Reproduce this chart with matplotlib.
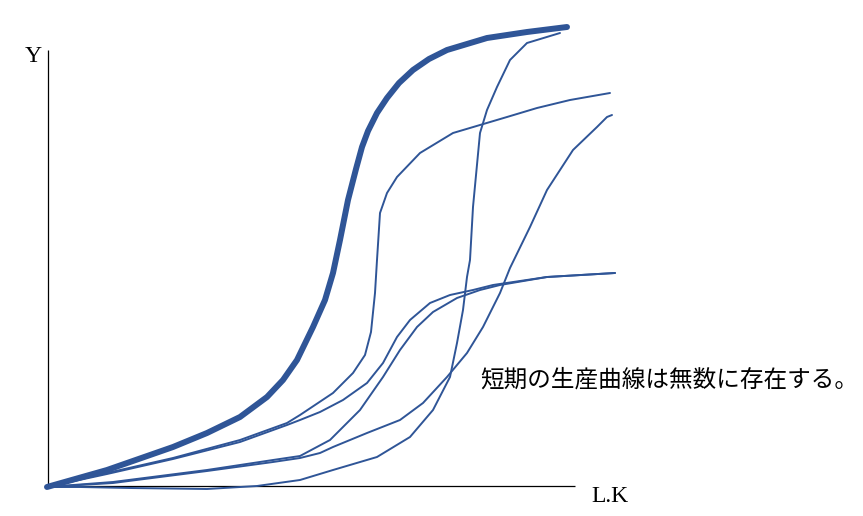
import matplotlib
matplotlib.use("Agg")
import matplotlib.pyplot as plt

# Curves: x = input (L.K), y = output (Y), units
thick_x = [0, 60, 126, 160, 193, 220, 236, 250, 266, 278, 286, 293, 301, 309, 315, 321, 330, 340, 352, 366, 382, 400, 440, 480, 520]
thick_y = [0, 17, 40, 54, 70, 90, 107, 127, 160, 187, 214, 247, 287, 318, 340, 356, 374, 389, 404, 417, 428, 437, 449, 455, 460]

b_x = [0, 60, 126, 193, 240, 253, 286, 306, 318, 324, 328, 330, 333, 340, 350, 373, 406, 433, 460, 490, 523, 563]
b_y = [0, 14, 29, 47, 64, 72, 94, 114, 132, 155, 194, 227, 274, 294, 310, 334, 354, 362, 370, 379, 387, 394]

c_x = [0, 33, 83, 160, 210, 253, 286, 330, 363, 386, 403, 410, 416, 420, 423, 426, 433, 440, 450, 463, 480, 513]
c_y = [0, 0, -1, -2, 1, 7, 17, 30, 50, 77, 110, 144, 177, 210, 227, 280, 354, 377, 400, 427, 444, 454]

d_x = [0, 66, 160, 226, 253, 283, 313, 336, 353, 370, 386, 410, 433, 453, 500, 568]
d_y = [0, 5, 17, 27, 31, 47, 77, 110, 137, 160, 175, 189, 197, 202, 210, 214]

e_x = [0, 66, 160, 226, 253, 273, 286, 320, 353, 376, 400, 420, 436, 453, 463, 483, 500, 526, 550, 560, 565]
e_y = [0, 4, 16, 25, 29, 34, 40, 54, 67, 84, 110, 134, 160, 194, 219, 260, 297, 337, 360, 370, 372]

f_x = [0, 60, 126, 193, 240, 253, 273, 296, 320, 336, 350, 363, 383, 403, 426, 446, 500, 568]
f_y = [0, 13, 28, 45, 62, 67, 75, 87, 104, 124, 150, 167, 184, 192, 197, 202, 210, 214]

axis_y_top = 437
axis_x_right = 528

blue = "#2F5597"

fig = plt.figure(figsize=(8.63, 5.16), dpi=100)
ax = fig.add_axes([0, 0, 1, 1])
ax.set_xlim(-47, 816)
ax.set_ylim(-29, 487)
ax.axis("off")

# axes
ax.plot([1, 1], [0, axis_y_top], color="black", lw=0.9, solid_capstyle="butt")
ax.plot([0, axis_x_right], [1, 1], color="black", lw=0.9, solid_capstyle="butt")

for xs, ys in [(b_x, b_y), (c_x, c_y), (d_x, d_y), (e_x, e_y), (f_x, f_y)]:
    ax.plot(xs, ys, color=blue, lw=1.4, solid_joinstyle="round", solid_capstyle="round")
ax.plot(thick_x, thick_y, color=blue, lw=4.3, solid_joinstyle="round", solid_capstyle="round")

ax.text(-14, 430, "Y", fontfamily="Liberation Serif", fontsize=17, ha="center", va="center")
ax.text(563, -10, "L.K", fontfamily="Liberation Serif", fontsize=17, ha="center", va="center")
ax.text(433, 107, "短期の生産曲線は無数に存在する。",
        fontfamily=["Noto Sans CJK JP", "DejaVu Sans"], fontsize=17, ha="left", va="center")

fig.savefig("out.png", dpi=100)
